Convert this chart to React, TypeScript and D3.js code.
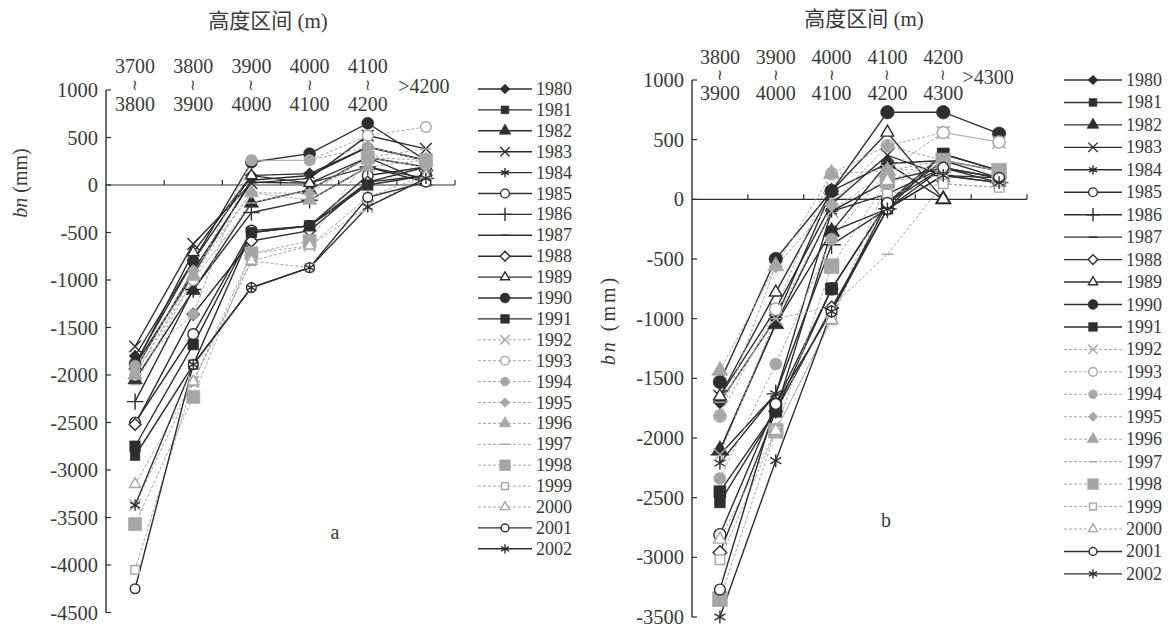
import React from 'react';
import * as d3 from 'd3';

// ---------- data ----------
const years = [1980, 1981, 1982, 1983, 1984, 1985, 1986, 1987, 1988, 1989, 1990, 1991,
  1992, 1993, 1994, 1995, 1996, 1997, 1998, 1999, 2000, 2001, 2002];

const categoriesA = ['3700~3800', '3800~3900', '3900~4000', '4000~4100', '4100~4200', '>4200'];
const categoriesB = ['3800~3900', '3900~4000', '4000~4100', '4100~4200', '4200~4300', '>4300'];

const ticksA = [1000, 500, 0, -500, -1000, -1500, -2000, -2500, -3000, -3500, -4000, -4500];
const ticksB = [1000, 500, 0, -500, -1000, -1500, -2000, -2500, -3000, -3500];

// bn (mm) per height band, one row per year (panel a)
const valuesA: (number | null)[][] = [
  [-1800, -800, 100, 120, 400, 260],   // 1980
  [-2850, -1890, -500, -430, 30, 190], // 1981
  [-2050, -1110, -190, -50, 290, 190], // 1982
  [-1700, -620, 20, 70, 520, 380],     // 1983
  [-1900, -940, 50, 100, 400, 260],    // 1984
  [-2500, -1570, -480, -430, 100, 190],// 1985
  [-2280, -1100, -290, -160, 190, 70], // 1986
  [-1950, -900, 30, 20, 290, 30],      // 1987
  [-2520, -1360, -590, -480, 30, 100], // 1988
  [-1900, -710, 100, 20, 190, 30],     // 1989
  [-1880, -800, 240, 330, 650, 260],   // 1990
  [-2750, -1680, -500, -430, 0, 100],  // 1991
  [-3370, -2070, -720, -640, -230, 100], // 1992
  [-2000, -1000, 260, 260, 520, 610],  // 1993
  [-1900, -1360, 260, 260, 400, 260],  // 1994
  [-1950, -900, -80, -90, 290, 190],   // 1995
  [-2000, -950, -80, -160, 190, 260],  // 1996
  [-2100, -1000, -190, -50, 290, 380], // 1997
  [-3570, -2230, -720, -590, 290, 260],// 1998
  [-4050, -2070, -800, -870, -130, 30],// 1999
  [-3150, -2070, -800, -640, -130, 100], // 2000
  [-4250, -1890, -1080, -870, -130, 30], // 2001
  [-3370, -1890, -1080, -870, -230, 70], // 2002
];

// bn (mm) per height band, one row per year (panel b)
const valuesB: (number | null)[][] = [
  [-1700, -1000, 70, 300, 325, 180],   // 1980
  [-2540, -1775, -270, -80, 380, 240], // 1981
  [-2100, -1045, -270, 300, 0, null],  // 1982
  [-1650, -920, -40, 370, 200, 180],   // 1983
  [-2210, -1630, -100, 45, 265, 180],  // 1984
  [-2810, -1715, -750, -30, 325, 240], // 1985
  [-2140, -1630, -380, -80, 200, 140], // 1986
  [-2100, -1045, -100, 155, 265, 140], // 1987
  [-2960, -1775, -910, -80, 265, 180], // 1988
  [-1650, -780, 70, 560, 0, null],     // 1989
  [-1530, -500, 70, 730, 730, 550],    // 1990
  [-2450, -1775, -750, -30, 380, 240], // 1991
  [-2140, -1000, -100, 240, 560, 480], // 1992
  [-1815, -920, 215, 450, 560, 480],   // 1993
  [-2340, -1380, -335, 240, 325, 240], // 1994
  [-1815, -560, -40, 450, 325, 240],   // 1995
  [-1435, -560, 215, 240, 265, 180],   // 1996
  [-1700, -1000, -900, -460, 130, 100],// 1997
  [-3350, -1940, -560, 155, 325, 240], // 1998
  [-3020, -1940, -1010, 45, 130, 100], // 1999
  [-2850, -1940, -1010, 155, 200, 140],// 2000
  [-3270, -1715, -940, -30, 265, 180], // 2001
  [-3500, -2190, -940, -80, 200, 140], // 2002
];

// ---------- styles ----------
const markerTypes = ['diamondF', 'squareF', 'triangleF', 'times', 'asterisk', 'circleO', 'plus', 'dash',
  'diamondO', 'triangleO', 'circleF', 'squareF', 'times', 'circleO', 'circleF', 'diamondF', 'triangleF',
  'dash', 'squareF', 'squareO', 'triangleO', 'circleO', 'asterisk'];
const isGray = (i: number) => i >= 12 && i <= 20;
const DARK = '#2e2e2e';
const GRAY = '#a6a6a6';
const TEXT = '#3a3a3a';
const SERIF = "'Liberation Serif', 'Times New Roman', serif";
const CJK = "'Liberation Serif', 'Noto Sans CJK SC', serif";

const dashSymbol = {
  draw(ctx: any, size: number) {
    const w = Math.sqrt(size) * 0.55;
    ctx.moveTo(-w, 0);
    ctx.lineTo(w, 0);
  },
};

function symbolFor(t: string): any {
  switch (t) {
    case 'diamondF': case 'diamondO': return d3.symbolDiamond2;
    case 'squareF': return d3.symbolSquare;
    case 'squareO': return d3.symbolSquare2;
    case 'triangleF': return d3.symbolTriangle;
    case 'triangleO': return d3.symbolTriangle2;
    case 'times': return d3.symbolTimes;
    case 'asterisk': return d3.symbolAsterisk;
    case 'plus': return d3.symbolPlus;
    case 'circleF': case 'circleO': return d3.symbolCircle;
    default: return dashSymbol;
  }
}

function Marker({ i, x, y, size }: { i: number; x: number; y: number; size: number }) {
  const t = markerTypes[i];
  const color = isGray(i) ? GRAY : DARK;
  let s = size;
  if (i === 18) s = size * 1.9;
  if (i === 10 || i === 11) s = size * 1.25;
  if (i === 21) s = size * 0.8;
  const d = d3.symbol().type(symbolFor(t)).size(s)() || '';
  const filled = t.endsWith('F');
  const open = t.endsWith('O');
  return (
    <path
      d={d}
      transform={`translate(${x},${y})`}
      fill={filled ? color : open ? '#fff' : 'none'}
      stroke={color}
      strokeWidth={filled ? 0.6 : 1.4}
    />
  );
}

type PanelCfg = {
  cats: string[];
  ticks: number[];
  values: (number | null)[][];
  x0: number; x1: number;
  yTop: number; yBot: number;
  title: [number, number];
  rowTop: number; rowMid: number; rowBot: number; gtDx: number; gtY: number;
  yTitle: [number, number]; yTitleSpacing: number;
  letter: string; letterPos: [number, number];
  legend: { lx0: number; lx1: number; mx: number; tx: number; y0: number; step: number; fs: number };
  msize: number;
};

function Panel({ c }: { c: PanelCfg }) {
  const x = d3.scaleBand<string>().domain(c.cats).range([c.x0, c.x1]);
  const y = d3.scaleLinear()
    .domain([c.ticks[0], c.ticks[c.ticks.length - 1]])
    .range([c.yTop, c.yBot]);
  const cx = (k: number) => (x(c.cats[k]) as number) + x.bandwidth() / 2;
  const line = d3.line<number | null>()
    .defined((v) => v !== null)
    .x((_, k) => cx(k))
    .y((v) => y(v as number));
  const y0 = y(0);
  return (
    <g>
      <text x={c.title[0]} y={c.title[1]} fontFamily={CJK} fontSize={21} fill={TEXT}
        textAnchor="middle" dominantBaseline="central">高度区间 (m)</text>
      {/* y axis */}
      <line x1={c.x0} x2={c.x0} y1={c.yTop} y2={c.yBot} stroke={DARK} strokeWidth={1.4} />
      {c.ticks.map((t) => (
        <g key={t}>
          <line x1={c.x0} x2={c.x0 + 5} y1={y(t)} y2={y(t)} stroke={DARK} strokeWidth={1.2} />
          <text x={c.x0 - 8} y={y(t)} textAnchor="end" dominantBaseline="central"
            fontFamily={SERIF} fontSize={20.5} fill={TEXT}>{t}</text>
        </g>
      ))}
      {/* x axis at 0 */}
      <line x1={c.x0} x2={c.x1} y1={y0} y2={y0} stroke={DARK} strokeWidth={1.2} />
      {c.cats.map((cat) => (
        <line key={cat} x1={(x(cat) as number) + x.bandwidth()} x2={(x(cat) as number) + x.bandwidth()}
          y1={y0} y2={y0 - 5} stroke={DARK} strokeWidth={1.2} />
      ))}
      {/* category labels */}
      {c.cats.map((cat, k) => {
        const parts = cat.split('~');
        if (parts.length === 1) {
          return (
            <text key={cat} x={cx(k) + c.gtDx} y={c.gtY} textAnchor="middle" dominantBaseline="central"
              fontFamily={SERIF} fontSize={20} fill={TEXT}>{cat}</text>
          );
        }
        return (
          <g key={cat}>
            <text x={cx(k)} y={c.rowTop} textAnchor="middle" dominantBaseline="central"
              fontFamily={SERIF} fontSize={20} fill={TEXT}>{parts[0]}</text>
            <text x={cx(k)} y={c.rowMid} textAnchor="middle" dominantBaseline="central"
              fontFamily="'DejaVu Serif', serif" fontSize={15} fill={TEXT}>≀</text>
            <text x={cx(k)} y={c.rowBot} textAnchor="middle" dominantBaseline="central"
              fontFamily={SERIF} fontSize={20} fill={TEXT}>{parts[1]}</text>
          </g>
        );
      })}
      {/* y title */}
      <text transform={`translate(${c.yTitle[0]},${c.yTitle[1]}) rotate(-90)`} textAnchor="middle"
        dominantBaseline="central" fontFamily={SERIF} fontSize={20} fill={TEXT}
        letterSpacing={c.yTitleSpacing}>
        <tspan fontStyle="italic">bn</tspan> (mm)
      </text>
      {/* series lines */}
      {c.values.map((vals, i) => (
        <path key={'l' + i} d={line(vals) || ''} fill="none"
          stroke={isGray(i) ? GRAY : DARK}
          strokeWidth={isGray(i) ? 1 : 1.4}
          strokeDasharray={isGray(i) ? '3,2' : undefined} />
      ))}
      {/* markers */}
      {c.values.map((vals, i) => (
        <g key={'m' + i}>
          {vals.map((v, k) => v === null ? null : (
            <Marker key={k} i={i} x={cx(k)} y={y(v)} size={c.msize} />
          ))}
        </g>
      ))}
      <text x={c.letterPos[0]} y={c.letterPos[1]} textAnchor="middle" dominantBaseline="central"
        fontFamily={SERIF} fontSize={20} fill={TEXT}>{c.letter}</text>
      {/* legend */}
      {years.map((yr, i) => {
        const ly = c.legend.y0 + i * c.legend.step;
        return (
          <g key={yr}>
            <line x1={c.legend.lx0} x2={c.legend.lx1} y1={ly} y2={ly}
              stroke={isGray(i) ? GRAY : DARK} strokeWidth={isGray(i) ? 1 : 1.4}
              strokeDasharray={isGray(i) ? '3,2' : undefined} />
            <Marker i={i} x={c.legend.mx} y={ly} size={60} />
            <text x={c.legend.tx} y={ly} dominantBaseline="central" fontFamily={SERIF}
              fontSize={c.legend.fs} fill={TEXT}>{yr}</text>
          </g>
        );
      })}
    </g>
  );
}

const panelA: PanelCfg = {
  cats: categoriesA, ticks: ticksA, values: valuesA,
  x0: 106, x1: 455, yTop: 90, yBot: 612.5,
  title: [268, 21],
  rowTop: 66, rowMid: 85, rowBot: 104, gtDx: -2, gtY: 86,
  yTitle: [20, 183], yTitleSpacing: 0,
  letter: 'a', letterPos: [335, 532],
  legend: { lx0: 478, lx1: 532, mx: 505, tx: 536, y0: 89, step: 20.9, fs: 18 },
  msize: 90,
};

const panelB: PanelCfg = {
  cats: categoriesB, ticks: ticksB, values: valuesB,
  x0: 692, x1: 1027, yTop: 80, yBot: 617,
  title: [864, 19],
  rowTop: 57, rowMid: 75, rowBot: 93, gtDx: -11, gtY: 77,
  yTitle: [608, 320], yTitleSpacing: 3,
  letter: 'b', letterPos: [886, 520],
  legend: { lx0: 1064, lx1: 1122, mx: 1093, tx: 1126, y0: 80, step: 22.45, fs: 18 },
  msize: 115,
};

export default function App() {
  return (
    <div style={{ position: 'fixed', left: 0, top: 0, width: 1170, height: 629, background: '#fff' }}>
      <svg width={1170} height={629} viewBox="0 0 1170 629" style={{ display: 'block' }}>
        <rect width={1170} height={629} fill="#fff" />
        <Panel c={panelA} />
        <Panel c={panelB} />
      </svg>
    </div>
  );
}
